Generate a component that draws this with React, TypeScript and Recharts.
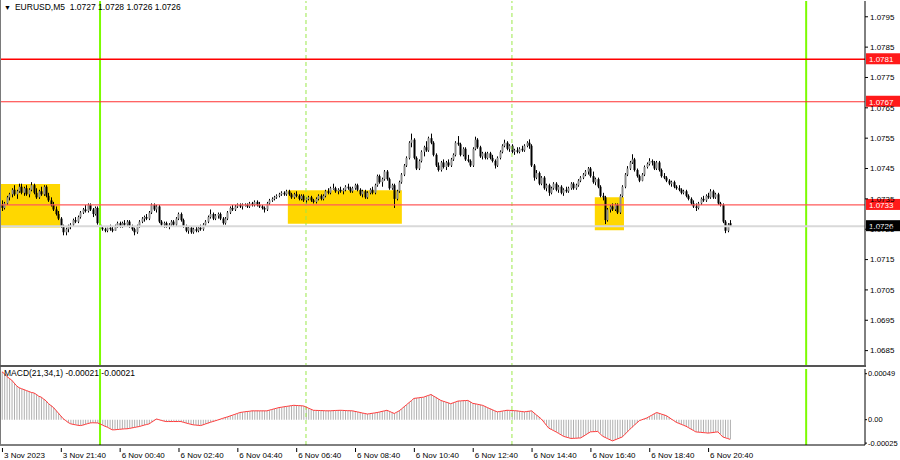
import { ComposedChart, Bar, Line, XAxis, YAxis, ReferenceLine, ReferenceArea } from 'recharts';

type Ohlc = [number, number, number, number];

// candles as [open, high, low, close] in pips above 1.0700, one per M5 bar
const fridayBars: Ohlc[] = [
  [33, 34.5, 31, 32], [32, 34, 31.5, 33.5], [33.5, 36, 33, 35.5], [35.5, 37, 34.5, 36.5], [36.5, 38.5, 35.5, 38],
  [38, 39.5, 36, 36.5], [36.5, 38, 35, 37.5], [37.5, 40, 37, 39], [39, 40, 36.5, 37], [37, 39, 36, 38.5],
  [38.5, 39.5, 36, 36.5], [36.5, 38.5, 35.5, 38], [38, 40.5, 37.5, 39.5], [39.5, 40, 36.5, 37], [37, 38.5, 35, 35.5],
  [35.5, 38, 35, 37.5], [37.5, 39, 36, 36.5], [36.5, 39.5, 36, 39], [39, 39.5, 35.5, 36], [36, 37, 34, 34.5],
  [34.5, 35.5, 32.5, 33], [33, 34, 31, 31.5], [31.5, 32.5, 29.5, 30], [30, 31, 28, 28.5], [28.5, 29, 25.5, 26],
  [26, 26.5, 23, 24], [24, 25.5, 23, 25], [25, 26.5, 24, 26], [26, 27, 25, 26.5], [26.5, 28.5, 26, 28],
  [28, 29, 27, 27.5], [27.5, 29.5, 27, 29], [29, 31, 28.5, 30.5], [30.5, 32, 30, 31.5], [31.5, 33, 30.5, 31],
  [31, 33.5, 30.5, 33], [33, 33.5, 31, 31.5], [31.5, 32, 29, 30], [30, 32.5, 29.5, 32], [32, 32.5, 26.5, 27],
];

const asiaBars: Ohlc[] = [
  [26.5, 27, 25, 25.5], [25.5, 26, 24.5, 25], [25, 25.5, 24, 24.5], [24.5, 25.5, 24, 25.5], [25.5, 26.5, 24.5, 25],
  [25, 26, 24, 24.5], [24.5, 26.5, 24.5, 26], [26, 27.5, 25.5, 27], [27, 27.5, 25.5, 26], [26, 27.5, 25.5, 27],
  [27, 28, 26, 26.5], [26.5, 28, 26, 27.5], [27.5, 28, 25.5, 26], [26, 26.5, 24.5, 25], [25, 25.5, 23, 24],
  [24, 26.5, 23.5, 26], [26, 28, 25.5, 27.5], [27.5, 29, 27, 28.5], [28.5, 29.5, 27.5, 29], [29, 30, 28, 28.5],
  [28.5, 31, 28, 30.5], [30.5, 33.5, 30, 33], [33, 33.5, 31, 31.5], [31.5, 33, 30.5, 32.5], [32.5, 33, 27, 27.5],
  [27.5, 28, 26, 26.5], [26.5, 27.5, 25.5, 27], [27, 27.5, 25.5, 26], [26, 27, 25, 26.5], [26.5, 28, 26, 27.5],
  [27.5, 28, 26, 26.5], [26.5, 29, 26, 28.5], [28.5, 30.5, 28, 30], [30, 30.5, 27.5, 28], [28, 28.5, 25.5, 26],
  [26, 26.5, 24, 24.5], [24.5, 26, 23.5, 25.5], [25.5, 26, 23.5, 24], [24, 25.5, 23.5, 25], [25, 26, 24, 24.5],
  [24.5, 26, 24, 25.5], [25.5, 26.5, 24.5, 25], [25, 27, 24.5, 26.5], [26.5, 28, 26, 27.5], [27.5, 29.5, 27, 29],
  [29, 31.5, 28.5, 30], [30, 30.5, 28, 28.5], [28.5, 30, 28, 29.5], [29.5, 30.5, 28.5, 30], [30, 30.5, 28, 28.5],
  [28.5, 29, 26.5, 27], [27, 29, 26.5, 28.5], [28.5, 31, 28, 30.5], [30.5, 32.5, 30, 32], [32, 33, 31, 31.5],
  [31.5, 33, 31, 32.5], [32.5, 33.5, 32, 33], [33, 33.5, 32, 32.5], [32.5, 33.5, 31.5, 33], [33, 33.5, 32.5, 33],
  [33, 33.5, 32, 32.5], [32.5, 34, 32, 33.5], [33.5, 34, 32.5, 33], [33, 34.5, 32.5, 34], [34, 34.5, 32.5, 33],
  [33, 34, 32, 32.5], [32.5, 33, 31.5, 32], [32, 32.5, 30.5, 31.5], [31.5, 34, 31, 33.5], [33.5, 35, 33, 34.5],
  [34.5, 35.5, 34, 35], [35, 36, 34.5, 35.5], [35.5, 36.5, 35, 36], [36, 37, 35.5, 36.5], [36.5, 37.5, 36, 37],
  [37, 37.5, 36, 36.5], [36.5, 38, 36, 37.5], [37.5, 38, 36, 36.5], [36.5, 37, 35, 35.5], [35.5, 37, 35, 36.5],
];

const europeBars: Ohlc[] = [
  [36.5, 37.5, 35.5, 36], [36, 36.5, 34.5, 35], [35, 36.5, 34.5, 36], [36, 36.5, 34, 34.5], [34.5, 35.5, 33.5, 35],
  [35, 36, 34.5, 35.5], [35.5, 36, 34, 34.5], [34.5, 35, 33.5, 34], [34, 35.5, 33.5, 35], [35, 36.5, 34.5, 36],
  [36, 36.5, 34.5, 35], [35, 36.5, 34.5, 36], [36, 38, 35.5, 37.5], [37.5, 38.5, 36.5, 37], [37, 39, 36.5, 38.5],
  [38.5, 40, 38, 38.5], [38.5, 39, 37, 37.5], [37.5, 38.5, 36.5, 38], [38, 39, 37, 37.5], [37.5, 38.5, 36.5, 38],
  [38, 39.5, 37.5, 39], [39, 40, 38, 38.5], [38.5, 39, 37, 37.5], [37.5, 39, 37, 38.5], [38.5, 40, 38, 39.5],
  [39.5, 40, 37.5, 38], [38, 38.5, 36, 36.5], [36.5, 38, 35.5, 37.5], [37.5, 38, 35, 35.5], [35.5, 37.5, 35, 37],
  [37, 38.5, 36.5, 38], [38, 39, 36.5, 37], [37, 40, 36.5, 39.5], [39.5, 43, 39, 42.5], [42.5, 43, 40, 40.5],
  [40.5, 42, 39, 41.5], [41.5, 44.5, 41, 44], [44, 44.5, 41, 41.5], [41.5, 42, 38, 38.5], [38.5, 40, 38, 39.5],
  [39.5, 40, 32, 35], [35, 38, 34.5, 37.5], [37.5, 41, 37, 40.5], [40.5, 43.5, 40, 43], [43, 46.5, 42.5, 46],
  [46, 49, 45.5, 48.5], [48.5, 54, 48, 53.5], [53.5, 56.5, 52, 54.5], [54.5, 55, 48, 48.5], [48.5, 49, 44.5, 45],
  [45, 48, 44.5, 47.5], [47.5, 51, 47, 50.5], [50.5, 52.5, 49, 52], [52, 54, 50.5, 51], [51, 55.5, 50.5, 55],
  [55, 56.5, 53, 53.5], [53.5, 54, 49, 49.5], [49.5, 50, 45.5, 46], [46, 47, 44, 44.5], [44.5, 47.5, 44, 47],
  [47, 48, 45, 45.5], [45.5, 47.5, 44.5, 47], [47, 48, 45.5, 46], [46, 48.5, 45.5, 48], [48, 50, 47.5, 49.5],
  [49.5, 54, 49, 53.5], [53.5, 55.7, 52.5, 53], [53, 53.5, 49, 49.5], [49.5, 52, 49, 51.5], [51.5, 52, 47.5, 48],
  [48, 49.5, 47, 47.5], [47.5, 48, 45.5, 46], [46, 52, 45.5, 51.5], [51.5, 55.5, 51, 54.5], [54.5, 55, 51.5, 52],
  [52, 52.5, 48.5, 49], [49, 50.5, 48, 50], [50, 50.5, 48, 48.5], [48.5, 50.5, 48, 50], [50, 50.5, 48, 48.5],
];

const usBars: Ohlc[] = [
  [48.5, 49.5, 47, 47.5], [47.5, 48, 45, 46], [46, 49, 45.5, 48.5], [48.5, 51, 48, 50.5], [50.5, 53, 50, 52.5],
  [52.5, 54.5, 52, 53.5], [53.5, 54, 51, 51.5], [51.5, 53, 50.5, 52.5], [52.5, 53, 50, 50.5], [50.5, 51.5, 49.5, 51],
  [51, 52, 50, 50.5], [50.5, 52, 50, 51.5], [51.5, 52.5, 50.5, 51], [51, 53, 50.5, 52.5], [52.5, 54, 52, 53.5],
  [53.5, 54.6, 51.5, 52.5], [52.5, 53, 45.5, 46], [46, 46.5, 41, 42], [42, 44.5, 41.5, 43.5], [43.5, 44, 39.5, 40],
  [40, 42.5, 39.5, 42], [42, 42.5, 38, 38.5], [38.5, 40, 37.5, 39.5], [39.5, 40, 36, 37], [37, 39, 36.5, 38.5],
  [38.5, 40.5, 38, 40], [40, 40.5, 37.5, 38], [38, 39.5, 37, 39], [39, 39.5, 36.5, 37], [37, 38.5, 36, 38],
  [38, 39, 37, 37.5], [37.5, 39, 37, 38.5], [38.5, 40.5, 38, 40], [40, 40.5, 38, 38.5], [38.5, 40, 38, 39.5],
  [39.5, 41.5, 39, 41], [41, 42.5, 40.5, 42], [42, 43.5, 41.5, 43], [43, 44.5, 42.5, 44], [44, 45.5, 43, 45],
  [45, 45.5, 42, 42.5], [42.5, 44, 40, 40.5], [40.5, 42, 39.5, 41.5], [41.5, 42, 38.5, 39], [39, 39.5, 35.5, 36],
  [36, 37, 34.5, 35.5], [35.5, 36, 26.7, 28], [28, 32, 27.5, 31.5], [31.5, 33, 30.5, 32.5], [32.5, 33.5, 31, 31.5],
  [31.5, 33.5, 31, 33], [33, 33.5, 30, 30.5], [30.5, 36.5, 30, 36], [36, 39.5, 35.5, 39], [39, 43.5, 38.5, 43],
  [43, 45.8, 42.5, 45], [45, 47.5, 44.5, 47], [47, 49.7, 46.5, 48], [48, 48.5, 44, 44.5], [44.5, 45, 42, 42.5],
  [42.5, 43, 40.5, 41], [41, 43.5, 40.8, 43], [43, 46, 42.5, 45.5], [45.5, 47, 45, 46.5], [46.5, 48.4, 46, 47.5],
  [47.5, 48, 46, 47], [47, 47.5, 44.5, 45], [45, 47.5, 44.5, 47], [47, 47.5, 44, 44.5], [44.5, 45, 42, 42.5],
  [42.5, 43.5, 41.5, 42], [42, 42.5, 40.5, 41], [41, 41.5, 39.5, 40], [40, 41, 39, 40.5], [40.5, 41, 38.5, 39],
  [39, 39.5, 38, 38.5], [38.5, 39.5, 37.5, 38], [38, 38.5, 36.5, 37], [37, 38, 36.5, 37.5], [37.5, 38, 35.5, 36],
  [36, 36.5, 34.5, 35], [35, 35.5, 33, 33.5], [33.5, 34.5, 32, 32.5], [32.5, 33.5, 31, 32], [32, 34, 31.5, 33.5],
  [33.5, 35.5, 33, 35], [35, 36, 34, 34.5], [34.5, 36.5, 34, 36], [36, 37, 35, 35.5], [35.5, 38.2, 35, 37.5],
  [37.5, 38, 35, 35.5], [35.5, 37, 35, 36.5], [36.5, 37, 33, 33.5], [33.5, 34, 32.5, 33], [33, 33.5, 27, 27.5],
  [27.5, 28, 23.7, 24.5], [24.5, 27, 24, 26.5], [27, 28, 26, 26],
];

// MACD(21,34,1) per bar, in units of 0.00001
const macdFriday = [
  51, 49, 46, 44, 42, 39, 36, 34, 33, 32,
  31, 30, 29, 28.5, 27, 25, 24, 22, 20, 17,
  15, 13, 10, 7, 4, 1, -1, -3, -4.4, -5,
  -5.5, -6, -6.3, -5.8, -5, -4.2, -3.5, -3.3, -3.4, -3.5,
];

const macdMonday = [
  -4.5, -5.8, -7, -8, -9.5, -10.8, -10.8, -10.5, -10.3, -10,
  -9.8, -9.7, -9.3, -8.8, -8.3, -7.8, -7.3, -6.6, -5.8, -5.2,
  -4.5, -2.8, -1, 0.7, 0, -0.8, -1.5, -2, -2, -2,
  -2, -2, -2, -2, -2.8, -3.5, -4.2, -4.9, -5.5, -5.8,
  -6, -6.3, -5.5, -4.6, -3.7, -2.8, -2, -1.2, -0.4, 0.5,
  1.4, 2.2, 3, 3.9, 4.8, 5.7, 6.6, 7.6, 8, 8.4,
  8.7, 9, 9.4, 9.4, 9.4, 9.4, 9.4, 9.4, 9.4, 10.1,
  10.8, 11.5, 12.2, 12.9, 13.3, 13.7, 14.1, 14.5, 14.9, 15.3,
  15.1, 15, 14.8, 14.6, 13.5, 12.3, 11.2, 10, 9.9, 9.8,
  9.7, 9.6, 9.5, 9.4, 9.5, 9.6, 9.8, 9.9, 10, 9.9,
  9.7, 9.6, 9.5, 9.4, 8.8, 8.3, 7.7, 7.1, 6.6, 6,
  6.4, 6.8, 7.2, 7.6, 8.2, 8.8, 9.4, 10, 8.9, 7.7,
  6.6, 8, 9.4, 11.5, 13.7, 15.9, 18.1, 20.3, 22.6, 23,
  23.3, 23.7, 24, 25, 25.9, 26.8, 25.2, 23.7, 22.1, 20.5,
  19.6, 18.8, 17.9, 17, 17.9, 18.9, 19.8, 20, 20.2, 20.3,
  20.5, 19, 17.4, 16.9, 16.4, 15.8, 15.3, 14.1, 12.9, 11.7,
  10.6, 9.4, 8.3, 8.7, 9.1, 9.6, 10, 9.9, 9.7, 9.6,
  9.4, 9, 8.7, 8.3, 8.7, 9, 9.4, 7.2, 5, 2.9,
  0.7, -2.5, -5.8, -9, -10.3, -11.7, -13, -14.6, -16.1, -17.7,
  -18.5, -19.2, -20, -19.9, -19.8, -19.6, -19.5, -17.9, -16.3, -14.6,
  -13, -12.8, -12.7, -12.5, -15.1, -17.7, -18.9, -20.2, -21.4, -22.6,
  -21.6, -20.5, -19.5, -18.4, -15.8, -13.2, -10.6, -8, -5.7, -3.3,
  -1, -0.1, 0.9, 1.8, 3.3, 4.7, 6.2, 7.6, 6.8, 5.9,
  5.1, 4.2, 2.5, 0.7, -1, -2.8, -3.9, -4.9, -6, -7,
  -8.5, -10, -11.5, -13, -13.3, -13.5, -13.8, -14, -14.3, -14,
  -13.7, -13.3, -13, -15.7, -18.4, -19.3, -20.1, -21,
];

const timeLabels = [
  '3 Nov 2023', '3 Nov 21:40', '6 Nov 00:40', '6 Nov 02:40', '6 Nov 04:40', '6 Nov 06:40', '6 Nov 08:40',
  '6 Nov 10:40', '6 Nov 12:40', '6 Nov 14:40', '6 Nov 16:40', '6 Nov 18:40', '6 Nov 20:40',
];
const priceTicks = [1.0685, 1.0695, 1.0705, 1.0715, 1.0725, 1.0735, 1.0745, 1.0755, 1.0765, 1.0775, 1.0785, 1.0795];
const macdTicks = [-0.00025, 0, 0.00049];

const levels = [1.0781, 1.0767, 1.0733];
const bidPrice = 1.0726;
const dayLines = [40, 328]; // bar index of day opens
const hourLines = [124, 208];
const zones = [
  { x1: -0.8, x2: 23.7, y1: 1.07256, y2: 1.07399 },
  { x1: 116.6, x2: 163.1, y1: 1.07268, y2: 1.07378 },
  { x1: 241.8, x2: 253.7, y1: 1.07247, y2: 1.07355 },
];

const toPrice = (p: number) => +(1.07 + p / 10000).toFixed(5);
const allBars = [...fridayBars, ...asiaBars, ...europeBars, ...usBars];
const allMacd = [...macdFriday, ...macdMonday];
const rows = allBars.map(([o, h, l, c], i) => ({
  i,
  o: toPrice(o),
  h: toPrice(h),
  l: toPrice(l),
  c: toPrice(c),
  range: [toPrice(l), toPrice(h)],
  macd: (allMacd[i] ?? 0) / 100000,
}));

const X_DOMAIN: [number, number] = [-0.8, 352];
const FONT = '"Liberation Sans", Arial, sans-serif';
const LIME = '#7cfc00';

function Candle(props: any) {
  const { x, y, width, height, payload } = props;
  if (!payload || !isFinite(y)) return null;
  const { o, h, l, c } = payload;
  const px = Math.round(x + width / 2);
  const k = h > l ? height / (h - l) : 0;
  const top = y + (h - Math.max(o, c)) * k;
  const bot = y + (h - Math.min(o, c)) * k;
  const bull = c >= o;
  return (
    <g>
      <line x1={px + 0.5} x2={px + 0.5} y1={y} y2={y + height} stroke="#000" strokeWidth={1} />
      <rect x={px - 0.5} y={top} width={2} height={Math.max(1, bot - top)} fill={bull ? '#8c8c8c' : '#000'} />
    </g>
  );
}

function priceTag(text: string, bg: string) {
  return (p: any) => {
    const vb = p.viewBox || {};
    const y = vb.y ?? 0;
    const x = (vb.x ?? 0) + (vb.width ?? 0);
    return (
      <g>
        <rect x={x + 1} y={y - 6} width={34} height={11} fill={bg} />
        <text x={x + 4} y={y + 3} fontSize={8} fill="#fff" fontFamily={FONT}>
          {text}
        </text>
      </g>
    );
  };
}

function TimeTick(props: any) {
  const { x, y, payload } = props;
  const label = timeLabels[Math.round(payload.value / 24)];
  return (
    <g>
      <line x1={x + 0.5} x2={x + 0.5} y1={y - 5} y2={y - 1} stroke="#000" />
      <text x={x + 2} y={y + 5} fontSize={8} fill="#000" fontFamily={FONT} textAnchor="start">
        {label}
      </text>
    </g>
  );
}

function verticalLines() {
  return [
    ...hourLines.map((v) => (
      <ReferenceLine key={'h' + v} x={v} stroke="#9be84a" strokeDasharray="4 3" strokeWidth={1} />
    )),
    ...dayLines.map((v) => <ReferenceLine key={'d' + v} x={v} stroke={LIME} strokeWidth={2} />),
  ];
}

export default function App() {
  const axisTick = { fontSize: 8, fill: '#000', fontFamily: FONT };
  return (
    <div style={{ position: 'absolute', left: 0, top: 0, width: 900, height: 460, background: '#fff', fontFamily: FONT }}>
      <div style={{ position: 'absolute', left: 0, top: 0 }}>
        <ComposedChart width={900} height={367} data={rows} margin={{ top: 1, right: 0, left: 0, bottom: 0 }}>
          <XAxis dataKey="i" type="number" domain={X_DOMAIN} allowDataOverflow hide />
          <YAxis
            orientation="right"
            width={35}
            type="number"
            domain={[1.06796, 1.08002]}
            allowDataOverflow
            ticks={priceTicks}
            interval={0}
            tickFormatter={(v: number) => v.toFixed(4)}
            tick={axisTick}
            tickSize={3}
            tickMargin={2}
            axisLine={{ stroke: '#000' }}
            tickLine={{ stroke: '#000' }}
          />
          {zones.map((z, k) => (
            <ReferenceArea key={k} x1={z.x1} x2={z.x2} y1={z.y1} y2={z.y2} fill="#ffd700" fillOpacity={1} stroke="none" ifOverflow="hidden" />
          ))}
          {verticalLines()}
          <ReferenceLine y={bidPrice} stroke="#d9d9d9" strokeWidth={2} label={{ content: priceTag('1.0726', '#000') }} />
          <ReferenceLine y={levels[0]} stroke="#ff0000" strokeWidth={1.5} label={{ content: priceTag('1.0781', '#ff1a1a') }} />
          <ReferenceLine y={levels[1]} stroke="#ff3030" strokeWidth={1} label={{ content: priceTag('1.0767', '#ff1a1a') }} />
          <ReferenceLine y={levels[2]} stroke="#ff5a5a" strokeWidth={1.2} label={{ content: priceTag('1.0733', '#ff1a1a') }} />
          <Bar dataKey="range" barSize={3} shape={(p: any) => <Candle {...p} />} isAnimationActive={false} />
        </ComposedChart>
      </div>
      <div style={{ position: 'absolute', left: 0, top: 367 }}>
        <ComposedChart width={900} height={93} data={rows} margin={{ top: 2, right: 0, left: 0, bottom: 0 }}>
          <XAxis
            dataKey="i"
            type="number"
            domain={X_DOMAIN}
            allowDataOverflow
            ticks={timeLabels.map((_, k) => k * 24)}
            interval={0}
            tick={(p: any) => <TimeTick {...p} />}
            tickLine={false}
            height={15}
            axisLine={{ stroke: '#000' }}
          />
          <YAxis
            orientation="right"
            width={35}
            type="number"
            domain={[-0.00027, 0.00054]}
            allowDataOverflow
            ticks={macdTicks}
            interval={0}
            tickFormatter={(v: number) => (v === 0 ? '0.00' : v.toFixed(5))}
            tick={{ ...axisTick, fontSize: 7.5 }}
            tickSize={2}
            tickMargin={1}
            axisLine={{ stroke: '#000' }}
            tickLine={{ stroke: '#000' }}
          />
          {verticalLines()}
          <Bar dataKey="macd" barSize={1} fill="#b0b0b0" isAnimationActive={false} />
          <Line dataKey="macd" type="linear" stroke="#ff3b3b" strokeWidth={1} dot={false} isAnimationActive={false} />
        </ComposedChart>
      </div>
      {/* panel frame */}
      <div style={{ position: 'absolute', left: 0, top: 0, width: 1, height: 445, background: '#7a7a7a' }} />
      <div style={{ position: 'absolute', left: 0, top: 365, width: 866, height: 2, background: '#555' }} />
      <div style={{ position: 'absolute', left: 4, top: 2, fontSize: 8.5, color: '#000', whiteSpace: 'nowrap' }}>
        <span style={{ fontSize: 7, marginRight: 4 }}>▼</span>EURUSD,M5&nbsp; 1.0727 1.0728 1.0726 1.0726
      </div>
      <div style={{ position: 'absolute', left: 4, top: 368, fontSize: 8.5, color: '#000', whiteSpace: 'nowrap' }}>
        MACD(21,34,1) -0.00021 -0.00021
      </div>
    </div>
  );
}
